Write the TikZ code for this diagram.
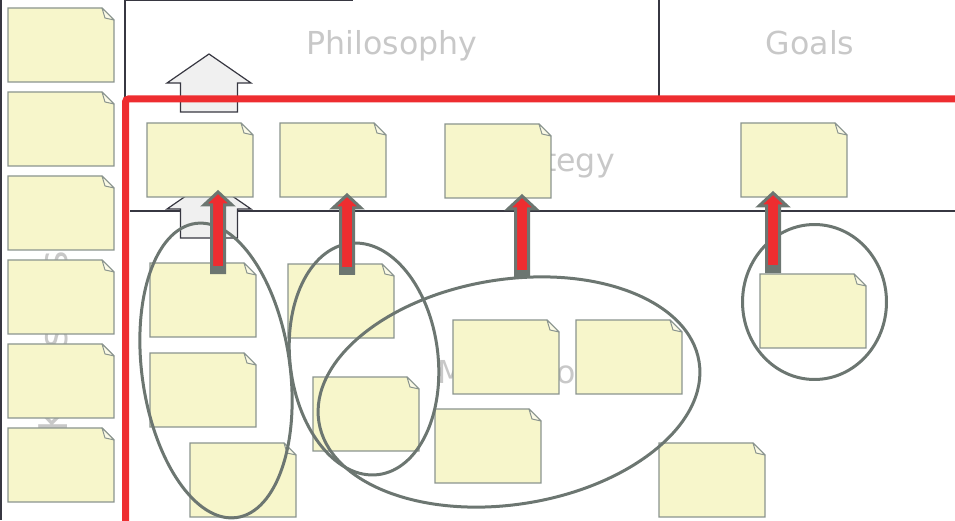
\documentclass[tikz,border=0pt]{standalone}
\usepackage{fontspec}
\setmainfont{DejaVu Sans}
\usetikzlibrary{calc,shapes.geometric,positioning}

\definecolor{notebg}{RGB}{247,246,203}
\definecolor{notefold}{RGB}{251,250,230}
\definecolor{noteedge}{RGB}{138,148,142}
\definecolor{groupline}{RGB}{108,118,113}
\definecolor{framered}{RGB}{238,45,48}
\definecolor{labelgray}{RGB}{200,200,200}
\definecolor{frameline}{RGB}{55,55,65}
\definecolor{liftfill}{RGB}{240,240,240}

% block arrow pointing up: style, foot, tip, shaft half width, head half width, head length
\newcommand\blockarrow[6]{%
  \draw[#1] ($(#2)+(-#4,0)$) -- ($(#3)+(-#4,#6)$) -- ($(#3)+(-#5,#6)$) -- (#3)
    -- ($(#3)+(#5,#6)$) -- ($(#3)+(#4,#6)$) -- ($(#2)+(#4,0)$) -- cycle;}

\begin{document}
\begin{tikzpicture}[x=0.02cm,y=-0.02cm]
	 \tikzstyle{frame}=[draw=frameline,line width=0.024cm]
	 \tikzstyle{band}=[text=labelgray,font=\fontsize{18}{18}\selectfont,anchor=base,inner sep=0pt]
	 \tikzstyle{note}=[minimum width=2.12cm,minimum height=1.48cm,inner sep=0pt,outer sep=0pt,anchor=north west,
	   append after command={\pgfextra{
	     \draw[draw=noteedge,fill=notebg,line width=0.024cm] (\tikzlastnode.north west) -- ([xshift=-0.24cm]\tikzlastnode.north east)
	       -- ([yshift=-0.24cm]\tikzlastnode.north east) -- (\tikzlastnode.south east) -- (\tikzlastnode.south west) -- cycle;
	     \draw[draw=noteedge,fill=notefold,line width=0.02cm,line join=round] ([xshift=-0.24cm]\tikzlastnode.north east)
	       -- ([xshift=-0.18cm,yshift=-0.2cm]\tikzlastnode.north east) -- ([yshift=-0.24cm]\tikzlastnode.north east) -- cycle;}}]
	 \tikzstyle{group}=[ellipse,draw=groupline,line width=0.06cm,inner sep=0pt]
	 \tikzstyle{liftwhite}=[draw=frameline,fill=liftfill,line width=0.024cm]
	 \tikzstyle{liftred}=[draw=groupline,fill=framered,line width=0.06cm]

	 \useasboundingbox (0,0) rectangle (955,520);

	 \draw[frame] (1,0) -- (1,520);
	 \draw[frame] (125,0) -- (125,97);
	 \draw[frame] (125,0.7) -- (353,0.7);
	 \draw[frame] (659,0) -- (659,97);
	 \draw[frame] (130,211) -- (955,211);

	 \node[band] (philo) at (392,55) {Philosophy};
	 \node[band] (goals) at (810,55) {Goals};
	 \node[band] (strat) at (547,172) {Strategy};
	 \node[band] (method) at (540,383) {Methodology};
	 \node[band,rotate=90,anchor=base west,font=\fontsize{22.5}{22.5}\selectfont] (skills) at (67,433) {Key skills};

	 \coordinate (up1) at (209,112);
	 \coordinate (up1tip) at (209,54);
	 \coordinate (up2) at (209,238);
	 \coordinate (up2tip) at (209,180);
	 \blockarrow{liftwhite}{up1}{up1tip}{28.5}{42}{29}
	 \blockarrow{liftwhite}{up2}{up2tip}{28.5}{42}{29}

	 \node[note] (k1) at (8,8) {};
	 \node[note,below=0.2cm of k1] (k2) {};
	 \node[note,below=0.2cm of k2] (k3) {};
	 \node[note,below=0.2cm of k3] (k4) {};
	 \node[note,below=0.2cm of k4] (k5) {};
	 \node[note,below=0.2cm of k5] (k6) {};

	 \node[note] (s1) at (147,123) {};
	 \node[note] (s2) at (280,123) {};
	 \node[note] (s3) at (445,124) {};
	 \node[note] (s4) at (741,123) {};

	 \node[note] (m1) at (150,263) {};
	 \node[note] (m2) at (150,353) {};
	 \node[note] (m3) at (190,443) {};
	 \node[note] (m4) at (288,264) {};
	 \node[note] (m5) at (313,377) {};
	 \node[note] (m6) at (453,320) {};
	 \node[note] (m7) at (576,320) {};
	 \node[note] (m8) at (435,409) {};
	 \node[note] (m9) at (760,274) {};
	 \node[note] (m10) at (659,443) {};

	 \node[group,minimum width=2.96cm,minimum height=5.94cm,rotate=8] (g1) at (216,370.5) {};
	 \node[group,minimum width=2.96cm,minimum height=4.66cm,rotate=7] (g2) at (364,359) {};
	 \node[group,minimum width=7.7cm,minimum height=4.5cm,rotate=9] (g3) at (509,392) {};
	 \node[group,minimum width=2.88cm,minimum height=3.1cm] (g4) at (814.5,302) {};

	 \coordinate (foot1) at (218,272.5);
	 \coordinate (foot2) at (347,273);
	 \coordinate (foot3) at (522,276);
	 \coordinate (foot4) at (773,271.5);
	 \coordinate (tip1) at ($(s1.south -| foot1)+(0,-5)$);
	 \coordinate (tip2) at ($(s2.south -| foot2)+(0,-2)$);
	 \coordinate (tip3) at ($(s3.south -| foot3)+(0,-2)$);
	 \coordinate (tip4) at ($(s4.south -| foot4)+(0,-4)$);
	 \blockarrow{liftred}{foot1}{tip1}{6.5}{14}{13}
	 \blockarrow{liftred}{foot2}{tip2}{6.5}{14}{13}
	 \blockarrow{liftred}{foot3}{tip3}{6.5}{14}{13}
	 \blockarrow{liftred}{foot4}{tip4}{6.5}{14}{13}
	 \fill[groupline] ($(foot1)+(-8,-6.5)$) rectangle ($(foot1)+(8,1.5)$);
	 \fill[groupline] ($(foot2)+(-8,-6.5)$) rectangle ($(foot2)+(8,1.5)$);
	 \fill[groupline] ($(foot3)+(-8,-6.5)$) rectangle ($(foot3)+(8,1.5)$);
	 \fill[groupline] ($(foot4)+(-8,-6.5)$) rectangle ($(foot4)+(8,1.5)$);

	 \draw[draw=framered,line width=0.14cm,rounded corners=0.06cm] (125.5,530) -- (125.5,99) -- (965,99);
\end{tikzpicture}
\end{document}
